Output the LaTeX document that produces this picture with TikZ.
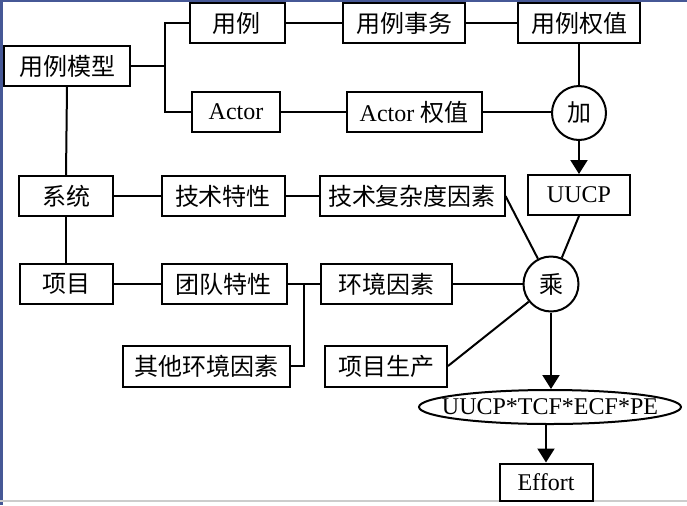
\documentclass[tikz,border=0pt]{standalone}
\usepackage{fontspec}
\setmainfont{Liberation Serif}
\newfontfamily\cjk{Noto Sans CJK SC}
\usepackage{tikz}
\usetikzlibrary{arrows.meta, positioning, calc}
\usetikzlibrary{shapes.geometric}
\definecolor{frameblue}{RGB}{70,88,150}

\begin{document}
\begin{tikzpicture}[x=0.5pt,y=-0.5pt,
  box/.style={draw, line width=1pt, inner sep=0pt, minimum height=20pt,
    font=\fontsize{12}{14}\selectfont},
  op/.style={draw, circle, line width=1pt, inner sep=0pt, minimum size=27pt,
    font=\fontsize{12}{14}\selectfont\cjk},
  ln/.style={line width=1pt},
  arr/.style={line width=1pt, -{Triangle[width=8.5pt,length=7pt]}}]
% Frame
\useasboundingbox (0,0) rectangle (687,505);
\fill[white] (0,0) rectangle (687,505);
\fill[frameblue] (0,0) rectangle (2.5,505);
\fill[frameblue] (0,0) rectangle (687,1.5);
\draw[gray!40, line width=0.6pt] (0,501) -- (687,501);
% Left column
\node[box, minimum width=63pt] (model) at (67,66) {\cjk 用例模型};
\node[box, minimum width=47pt] (sys) at (66,196) {\cjk 系统};
\node[box, minimum width=46.5pt] (proj) at (66,284) {\cjk 项目};
% Use case row
\node[box, minimum width=47.5pt] (uc) at (237,23) {\cjk 用例};
\node[box, minimum width=61pt] (uctx) at (404,23) {\cjk 用例事务};
\node[box, minimum width=61pt] (ucw) at (579,23) {\cjk 用例权值};
% Actor row
\node[box, minimum width=44pt] (act) at (236,112) {Actor};
\node[box, minimum width=67.5pt] (actw) at (414,112) {Actor {\cjk 权值}};
\node[op] (add) at (579,113) {加};
\node[box, minimum width=51pt] (uucp) at (579,195) {UUCP};
% Factors
\node[box, minimum width=61.5pt] (tech) at (223,196) {\cjk 技术特性};
\node[box, minimum width=92.5pt] (tcf) at (412,196) {\cjk 技术复杂度因素};
\node[box, minimum width=62.5pt] (team) at (224,284) {\cjk 团队特性};
\node[box, minimum width=65.5pt] (ecf) at (386,284) {\cjk 环境因素};
\node[box, minimum width=83.5pt, minimum height=20.5pt] (other) at (206,366) {\cjk 其他环境因素};
\node[box, minimum width=61pt, minimum height=20.5pt] (pe) at (386,366) {\cjk 项目生产};
\node[op, minimum size=27.5pt] (mul) at (551,284) {乘};
% Result
\node[box, ellipse, inner xsep=-9pt, inner ysep=-1pt, minimum width=131pt,
  minimum height=17pt] (prod) at (550,407) {UUCP*TCF*ECF*PE};
\node[box, minimum width=46.5pt, minimum height=18.5pt] (eff) at (546,482) {Effort};
% Connectors
\coordinate (br1) at (165,66);
\coordinate (br2) at (304,284);
\draw[ln] (model.east) -- (br1) |- (uc.west);
\draw[ln] (br1) |- (act.west);
\draw[ln] (model.south) -- (sys.north);
\draw[ln] (sys.south) -- (proj.north);
\draw[ln] (uc) -- (uctx);
\draw[ln] (uctx) -- (ucw);
\draw[ln] (act) -- (actw);
\draw[ln] (actw.east) -- (actw.east -| add.west);
\draw[ln] (ucw) -- (add);
\draw[arr] (add) -- (uucp);
\draw[ln] (sys) -- (tech);
\draw[ln] (tech) -- (tcf);
\draw[ln] (proj) -- (team);
\draw[ln] (team) -- (ecf);
\draw[ln] (br2) |- (other.east);
\draw[ln] (tcf.east) -- (mul);
\draw[ln] (uucp.south) -- (mul);
\draw[ln] (ecf) -- (mul);
\draw[ln] (pe.east) -- (mul);
\draw[arr] (mul) -- (mul |- prod.north);
\draw[arr] (prod.south -| eff) -- (eff);
\end{tikzpicture}
\end{document}
